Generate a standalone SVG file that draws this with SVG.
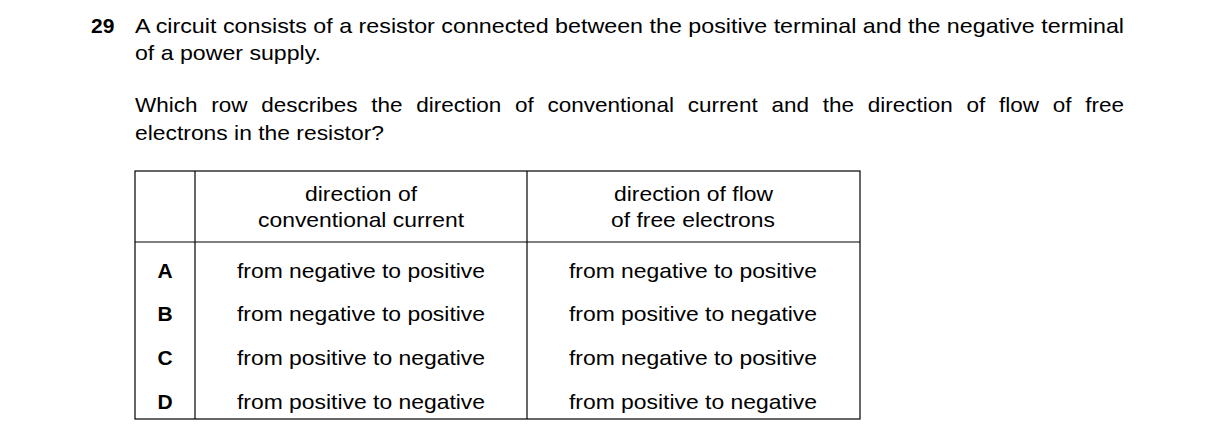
<svg xmlns="http://www.w3.org/2000/svg" width="1216" height="445" viewBox="0 0 1216 445">
<style>
text{font-family:"Liberation Sans",Arial,sans-serif;font-size:21px;fill:#000}
.b{font-weight:bold}
.c{text-anchor:middle}
line{stroke:#000;stroke-width:1.2}
</style>
<rect width="1216" height="445" fill="#fff"/>
<text x="91" y="33" class="b">29</text>
<text x="135" y="33" textLength="989" lengthAdjust="spacingAndGlyphs">A circuit consists of a resistor connected between the positive terminal and the negative terminal</text>
<text x="135" y="60" textLength="186" lengthAdjust="spacingAndGlyphs">of a power supply.</text>
<text x="135" y="112" textLength="989" lengthAdjust="spacingAndGlyphs" word-spacing="7">Which row describes the direction of conventional current and the direction of flow of free</text>
<text x="135" y="140" textLength="249" lengthAdjust="spacingAndGlyphs">electrons in the resistor?</text>
<g id="table">
<rect x="135" y="171" width="725" height="248" fill="none" stroke="#000" stroke-width="1.2"/>
<line x1="195" y1="171" x2="195" y2="419"/>
<line x1="527" y1="171" x2="527" y2="419"/>
<line x1="135" y1="242" x2="860" y2="242"/>
</g>
<text x="305" y="201" textLength="112" lengthAdjust="spacingAndGlyphs">direction of</text>
<text x="258" y="227" textLength="206" lengthAdjust="spacingAndGlyphs">conventional current</text>
<text x="614" y="201" textLength="159" lengthAdjust="spacingAndGlyphs">direction of flow</text>
<text x="611" y="227" textLength="164" lengthAdjust="spacingAndGlyphs">of free electrons</text>
<text x="165" y="278" class="b c">A</text>
<text x="165" y="321" class="b c">B</text>
<text x="165" y="365" class="b c">C</text>
<text x="165" y="409" class="b c">D</text>
<g>
<text x="237" y="278" textLength="248" lengthAdjust="spacingAndGlyphs">from negative to positive</text>
<text x="237" y="321" textLength="248" lengthAdjust="spacingAndGlyphs">from negative to positive</text>
<text x="237" y="365" textLength="248" lengthAdjust="spacingAndGlyphs">from positive to negative</text>
<text x="237" y="409" textLength="248" lengthAdjust="spacingAndGlyphs">from positive to negative</text>
<text x="569" y="278" textLength="248" lengthAdjust="spacingAndGlyphs">from negative to positive</text>
<text x="569" y="321" textLength="248" lengthAdjust="spacingAndGlyphs">from positive to negative</text>
<text x="569" y="365" textLength="248" lengthAdjust="spacingAndGlyphs">from negative to positive</text>
<text x="569" y="409" textLength="248" lengthAdjust="spacingAndGlyphs">from positive to negative</text>
</g>
</svg>
